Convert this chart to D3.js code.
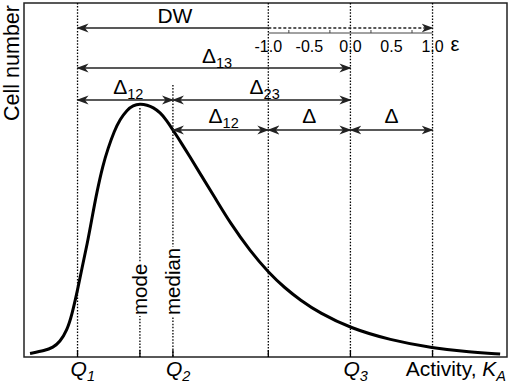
<!DOCTYPE html>
<html>
<head>
<meta charset="utf-8">
<script src="https://cdn.jsdelivr.net/npm/d3@7"></script>
<style>
  body { margin: 0; background: #fff; }
  text { font-family: Arial, "Liberation Sans", sans-serif; fill: #000; }
</style>
</head>
<body>
<div id="chart"></div>
<script>
/* Distribution of cell activity with quartiles and the epsilon scale */

// activity (arbitrary units) and cell number (%)
const curveX = [0.15, 0.52, 0.72, 0.89, 1.07, 1.19, 1.33, 1.44, 1.57, 1.69, 1.81, 1.96, 2.09, 2.24,
                2.39, 2.56, 2.71, 2.88, 3.06, 3.21, 3.38, 3.55, 3.70, 3.88, 4.12, 4.37, 4.75, 5.12,
                5.62, 6.09, 6.48, 6.86, 7.35, 8.10, 9.09, 10.16, 11.08, 11.83];
const curveY = [1.0, 1.8, 2.7, 4.2, 7.6, 11.9, 18.9, 25.1, 31.9, 39.3, 46.6, 54.2, 59.0, 63.8,
                67.2, 69.8, 71.1, 71.5, 71.2, 70.5, 69.1, 66.8, 64.1, 61.0, 56.6, 51.9, 44.9, 37.9,
                29.9, 23.7, 19.5, 16.1, 12.4, 8.2, 4.8, 2.5, 1.4, 0.85];
const quartiles = [1.33, 3.70, 8.11];   // Q1, Q2 (median), Q3
const modeX = 2.88;
const qNames = ["1", "2", "3"];
const epsTicks = [-1.0, -0.5, 0.0, 0.5, 1.0];
const epsMinor = [-0.75, -0.25, 0.25, 0.75];

const width = 510, height = 386,
      margin = ({top: 3, right: 3, bottom: 29, left: 24});

const svg = d3.select("#chart").append("svg")
    .attr("width", width).attr("height", height);

const x = d3.scaleLinear().domain([0, 12]).range([margin.left, width - margin.right]);
const y = d3.scaleLinear().domain([0, 100]).range([height - margin.bottom, margin.top]);

const [q1, q2, q3] = quartiles;
const d12 = q2 - q1, d23 = q3 - q2, delta = d23 - d12;
const eps = d3.scaleLinear().domain([-1, 1]).range([x(q3 - delta), x(q3 + delta)]);

// arrow head
const defs = svg.append("defs");
defs.append("marker")
    .attr("id", "head")
    .attr("viewBox", "0 -5 12 10")
    .attr("refX", 11).attr("refY", 0)
    .attr("markerWidth", 12).attr("markerHeight", 10)
    .attr("markerUnits", "userSpaceOnUse")
    .attr("orient", "auto-start-reverse")
    .append("path")
    .attr("d", "M0,-4.5 L12,0 L0,4.5 L3.5,0 Z")
    .attr("fill", "#222");

// frame
svg.append("rect")
    .attr("x", x.range()[0]).attr("y", y.range()[1])
    .attr("width", x.range()[1] - x.range()[0])
    .attr("height", y.range()[0] - y.range()[1])
    .attr("fill", "none").attr("stroke", "#222").attr("stroke-width", 1.5);

// vertical dotted lines
const vlines = [
  {v: q1, top: y.range()[1]},
  {v: modeX, top: y(71.5) + 4},
  {v: q2, top: 85},
  {v: q3 - delta, top: y.range()[1]},
  {v: q3, top: y.range()[1]},
  {v: q3 + delta, top: y.range()[1]}
];
svg.append("g").selectAll("line").data(vlines).join("line")
    .attr("x1", d => x(d.v)).attr("x2", d => x(d.v))
    .attr("y1", d => d.top).attr("y2", y(0))
    .attr("stroke", "#000").attr("stroke-width", 1.3)
    .attr("stroke-dasharray", "1.5,1.6");

// small ticks on the bottom axis
svg.append("g").selectAll("line").data(vlines).join("line")
    .attr("x1", d => x(d.v)).attr("x2", d => x(d.v))
    .attr("y1", y(0) - 7).attr("y2", y(0))
    .attr("stroke", "#000").attr("stroke-width", 1.3);

// mode / median labels on white
[[modeX, "mode"], [q2, "median"]].forEach(([v, t]) => {
  const g = svg.append("g").attr("transform", `translate(${x(v) + 7},315) rotate(-90)`);
  const txt = g.append("text").text(t).attr("font-size", 20.5);
  const bb = txt.node().getBBox();
  g.insert("rect", "text").attr("x", bb.x - 1).attr("y", bb.y)
    .attr("width", bb.width + 2).attr("height", bb.height).attr("fill", "#fff");
});

// the distribution curve
const line = d3.line()
    .x((d, i) => x(curveX[i]))
    .y(d => y(d))
    .curve(d3.curveBasis);
svg.append("path")
    .attr("d", line(curveY))
    .attr("fill", "none").attr("stroke", "#000").attr("stroke-width", 3);

// epsilon axis
const ea = svg.append("g");
ea.append("line").attr("x1", eps(-1)).attr("x2", eps(1)).attr("y1", 33).attr("y2", 33)
    .attr("stroke", "#444").attr("stroke-width", 1);
ea.selectAll(".mn").data(epsMinor).join("line")
    .attr("x1", d => eps(d)).attr("x2", d => eps(d)).attr("y1", 30).attr("y2", 33)
    .attr("stroke", "#444");
ea.selectAll(".lb").data(epsTicks).join("text")
    .attr("x", d => eps(d)).attr("y", 52)
    .attr("text-anchor", "middle").attr("font-size", 16)
    .text(d => d3.format(".1f")(d).replace("−", "-"));
ea.append("text").attr("x", eps(1) + 18).attr("y", 51).attr("font-size", 20).text("ε");

// arrows
function arrow(a, b, yy, opts = {}) {
  const l = svg.append("line")
      .attr("x1", x(a)).attr("x2", x(b)).attr("y1", yy).attr("y2", yy)
      .attr("stroke", "#222").attr("stroke-width", 1.5);
  if (opts.start !== false) l.attr("marker-start", "url(#head)");
  if (opts.end !== false) l.attr("marker-end", "url(#head)");
  if (opts.dash) l.attr("stroke-dasharray", opts.dash);
}
function label(cx, yy, main, sub) {
  const t = svg.append("text").attr("x", cx).attr("y", yy)
      .attr("text-anchor", "middle").attr("font-size", 21);
  t.append("tspan").text(main);
  if (sub) t.append("tspan").attr("font-size", 14.5).attr("dy", 5).text(sub);
}

arrow(q1, q3 - delta, 28, {end: false});
arrow(q3 - delta, q3 + delta, 28, {start: false, dash: "3,2"});
label(x((q1 + q3 - delta) / 2) + 2, 23, "DW");

arrow(q1, q3, 68);
label(x((q1 + q3) / 2) + 3, 63, "Δ", "13");

arrow(q1, q2, 100);
label(x((q1 + q2) / 2) + 3, 94, "Δ", "12");
arrow(q2, q3, 100);
label(x((q2 + q3) / 2) + 3, 94, "Δ", "23");

arrow(q2, q2 + d12, 130);
label(x(q2 + d12 / 2) + 3, 123, "Δ", "12");
arrow(q3 - delta, q3, 130);
label(x(q3 - delta / 2), 123, "Δ");
arrow(q3, q3 + delta, 130);
label(x(q3 + delta / 2), 123, "Δ");

// bottom labels
quartiles.forEach((q, i) => {
  const t = svg.append("text").attr("x", x(q) - 7).attr("y", 376)
      .attr("font-size", 21).attr("font-style", "italic");
  t.append("tspan").text("Q");
  t.append("tspan").attr("font-size", 14.5).attr("dy", 5).text(qNames[i]);
});
const act = svg.append("text").attr("x", 506).attr("y", 376)
    .attr("text-anchor", "end").attr("font-size", 21);
act.append("tspan").text("Activity, ");
act.append("tspan").attr("font-style", "italic").text("K");
act.append("tspan").attr("font-style", "italic").attr("font-size", 14.5).attr("dy", 5).text("A");

// y label
svg.append("text")
    .attr("transform", "translate(19,5) rotate(-90)")
    .attr("text-anchor", "end").attr("font-size", 21.5)
    .text("Cell number");
</script>
</body>
</html>
